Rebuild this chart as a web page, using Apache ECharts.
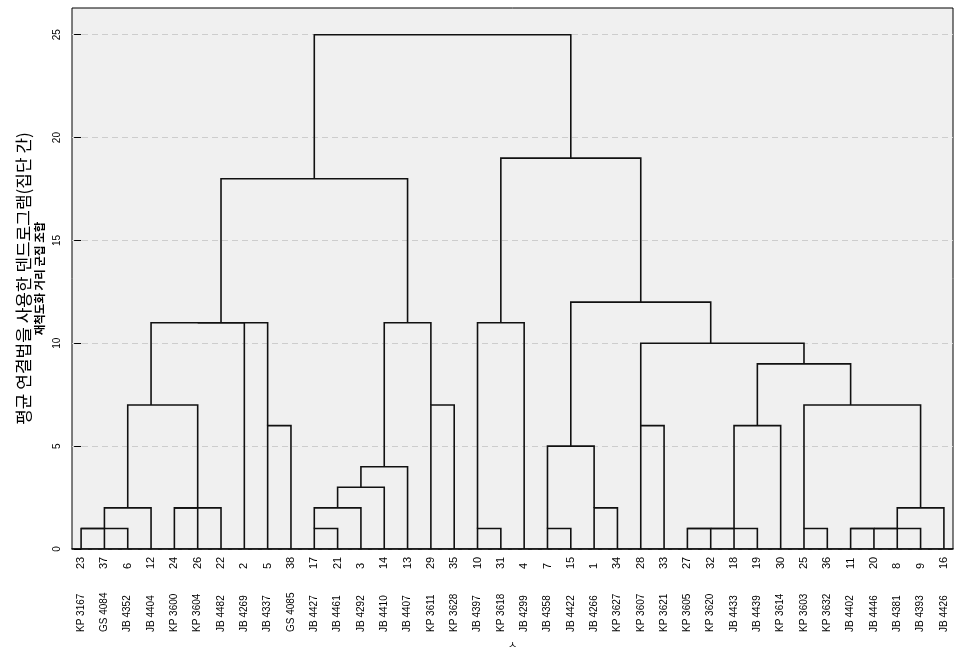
<!DOCTYPE html>
<html>
<head>
<meta charset="utf-8">
<script src="https://cdn.jsdelivr.net/npm/echarts@6/dist/echarts.min.js"></script>
<style>
html,body{margin:0;padding:0;background:#fff;}
#chart{width:965px;height:654px;}
</style>
</head>
<body>
<div id="chart"></div>
<script>
// Leaf labels, left to right
var leafNums = [23,37,6,12,24,26,22,2,5,38,17,21,3,14,13,29,35,10,31,4,7,15,1,34,28,33,27,32,18,19,30,25,36,11,20,8,9,16];
var leafNames = ['KP 3167','GS 4084','JB 4352','JB 4404','KP 3600','KP 3604','JB 4482','JB 4269','JB 4337','GS 4085',
  'JB 4427','JB 4461','JB 4292','JB 4410','JB 4407','KP 3611','KP 3628','JB 4397','KP 3618','JB 4299',
  'JB 4358','JB 4422','JB 4266','KP 3627','KP 3607','KP 3621','KP 3605','KP 3620','JB 4433','JB 4439',
  'KP 3614','KP 3603','KP 3632','JB 4402','JB 4446','JB 4381','JB 4393','JB 4426'];
// Merge steps: child A, child B (0-37 = leaf, 38+k = cluster from step k), rescaled distance
var mergeA = [0,38,39,4,41,40,8,43,45,10,47,48,49,15,50,46,17,54,20,22,56,24,26,60,61,62,31,33,65,66,67,64,63,59,58,55,53];
var mergeB = [1,2,3,5,6,42,9,7,44,11,12,13,14,16,51,52,18,19,21,23,57,25,27,28,29,30,32,34,35,36,37,68,69,70,71,72,73];
var mergeH = [1,1,2,2,2,7,6,11,11,1,2,3,4,7,11,18,1,11,1,2,5,6,1,1,1,6,1,1,1,1,2,7,9,10,12,19,25];
var yTicks = [0,5,10,15,20,25];

var nLeaf = leafNums.length;
var pos = [], hgt = [];
for (var i = 0; i < nLeaf; i++) { pos.push(i); hgt.push(0); }
var segs = [];
for (var k = 0; k < mergeA.length; k++) {
  var a = mergeA[k], b = mergeB[k], h = mergeH[k];
  var pa = pos[a], pb = pos[b];
  segs.push({coords: [[pa, hgt[a]], [pa, h], [pb, h], [pb, hgt[b]]]});
  pos.push(Math.floor((Math.min(pa, pb) + Math.max(pa, pb)) / 2));
  hgt.push(h);
}
var leafIdx = leafNums.map(function (_, i) { return i; });

var chart = echarts.init(document.getElementById('chart'), null, {renderer: 'canvas'});
var latin = 'Liberation Sans, Arial, sans-serif';
var kor = 'Noto Sans CJK KR, sans-serif';
chart.setOption({
  animation: false,
  backgroundColor: '#ffffff',
  grid: {left: 72, right: 12, top: 8, bottom: 102, show: true, backgroundColor: '#f0f0f0', borderColor: '#000', borderWidth: 1},
  xAxis: [{
    type: 'value', min: -0.39, max: 37.39,
    axisLine: {show: true, lineStyle: {color: '#000', width: 1.5}},
    axisTick: {show: false}, splitLine: {show: false},
    axisLabel: {customValues: leafIdx, rotate: 90, align: 'left', verticalAlign: 'middle', margin: 20,
      fontSize: 11, color: '#000', fontFamily: latin,
      formatter: function (v) { return String(leafNums[Math.round(v)]); }},
    name: 'ㅅ', nameLocation: 'middle', nameGap: 90,
    nameTextStyle: {fontSize: 10, color: '#000', fontFamily: kor}
  }, {
    type: 'value', min: -0.39, max: 37.39, position: 'bottom',
    axisLine: {show: false}, axisTick: {show: false}, splitLine: {show: false},
    axisLabel: {customValues: leafIdx, rotate: 90, align: 'left', verticalAlign: 'middle', margin: 83,
      fontSize: 10, color: '#000', fontFamily: latin,
      formatter: function (v) { return leafNames[Math.round(v)]; }}
  }],
  yAxis: [{
    type: 'value', min: 0, max: 26.3, interval: 5,
    axisLine: {show: false},
    axisTick: {show: true, length: 7, lineStyle: {color: '#000'}, customValues: yTicks},
    axisLabel: {customValues: yTicks, rotate: 90, margin: 10, fontSize: 10, color: '#000', fontFamily: latin},
    splitLine: {show: true, lineStyle: {color: '#cdcdcd', type: [6, 4], width: 1}},
    name: '평균 연결법을 사용한 덴드로그램(집단 간)', nameLocation: 'middle', nameRotate: 90, nameGap: 40,
    nameTextStyle: {fontSize: 17, color: '#000', fontFamily: kor}
  }, {
    type: 'value', min: 0, max: 26.3, position: 'left',
    axisLine: {show: false}, axisTick: {show: false}, axisLabel: {show: false}, splitLine: {show: false},
    name: '재척도화 거리 군집 조합', nameLocation: 'middle', nameRotate: 90, nameGap: 27,
    nameTextStyle: {fontSize: 11.5, fontWeight: 'bold', color: '#000', fontFamily: kor}
  }],
  series: [{
    type: 'lines', coordinateSystem: 'cartesian2d', xAxisIndex: 0, yAxisIndex: 0,
    polyline: true, silent: true,
    lineStyle: {color: '#111', width: 1.6, opacity: 1},
    data: segs
  }]
});
</script>
</body>
</html>
